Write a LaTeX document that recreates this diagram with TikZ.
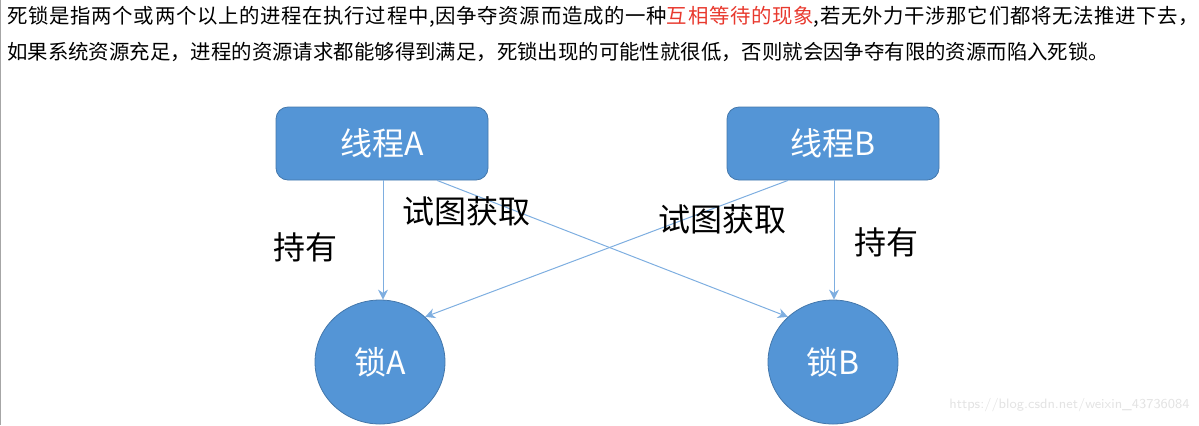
\documentclass[tikz,border=0pt]{standalone}
\usepackage{fontspec}
\usepackage{xcolor}
\usetikzlibrary{positioning,arrows.meta,shapes.geometric}
\newfontfamily\cjk{Noto Sans CJK SC}
\newfontfamily\cjkwide[LetterSpace=3.4]{Noto Sans CJK SC}
\definecolor{boxblue}{HTML}{5495D6}
\definecolor{lineblue}{HTML}{7EAEE0}
\definecolor{hilite}{HTML}{E8392E}

\begin{document}
\begin{tikzpicture}[x=0.5pt,y=-0.5pt,
            thread/.style={
                draw=boxblue!80!black, fill=boxblue,
                rounded corners=6pt,
                minimum width=106pt, minimum height=36.5pt,
                text=white, font=\cjk\fontsize{16}{18}\selectfont
            },
            lockc/.style={
                ellipse, draw=boxblue!80!black, fill=boxblue,
                minimum width=65pt, minimum height=62pt,
                text=white, font=\cjk\fontsize{16}{18}\selectfont
            },
            lbl/.style={font=\cjk\fontsize{16}{18}\selectfont, inner sep=0pt},
            para/.style={anchor=west, inner sep=0pt, font=\cjk\fontsize{10.2}{12}\selectfont},
            conn/.style={draw=lineblue, line width=0.5pt, -{Stealth[length=5pt,width=5pt]}}]
            \useasboundingbox (0,0) rectangle (1199,425);
            \draw[gray!70, line width=0.8pt] (0.5,0) -- (0.5,425);

            % text above the picture
            \node[para, font=\cjkwide\fontsize{10.2}{12}\selectfont] (p1) at (7,17) {死锁是指两个或两个以上的进程在执行过程中,因争夺资源而造成的一种\textcolor{hilite}{互相等待的现象},若无外力干涉那它们都将无法推进下去，};
            \node[para] (p2) at (7,52) {如果系统资源充足，进程的资源请求都能够得到满足，死锁出现的可能性就很低，否则就会因争夺有限的资源而陷入死锁。};

            % threads and locks
            \node[thread] (tA) at (382,143.5) {线程A};
            \node[thread] (tB) at (833,143.5) {线程B};
            \node[lockc] (lA) at (380,362) {锁A};
            \node[lockc] (lB) at (833,362) {锁B};

            \draw[conn] (tA.south -| 383,0) -- (lA.north -| 383,0);
            \draw[conn] (tB.south -| 834,0) -- (lB.north -| 834,0);
            \draw[conn] (tA.south -| 437,0) -- (lB.135);
            \draw[conn] (tB.south -| 788,0) -- (lA.45);

            \node[lbl] (hA) at (305,247) {持有};
            \node[lbl] (hB) at (886,242) {持有};
            \node[lbl] (gA) at (466,211) {试图获取};
            \node[lbl] (gB) at (722,219) {试图获取};

            \node[anchor=east, inner sep=0pt, text=gray!22, font=\sffamily\fontsize{6.8}{8}\selectfont] (wm) at (1190,405) {https://blog.csdn.net/weixin\_43736084};
\end{tikzpicture}
\end{document}
